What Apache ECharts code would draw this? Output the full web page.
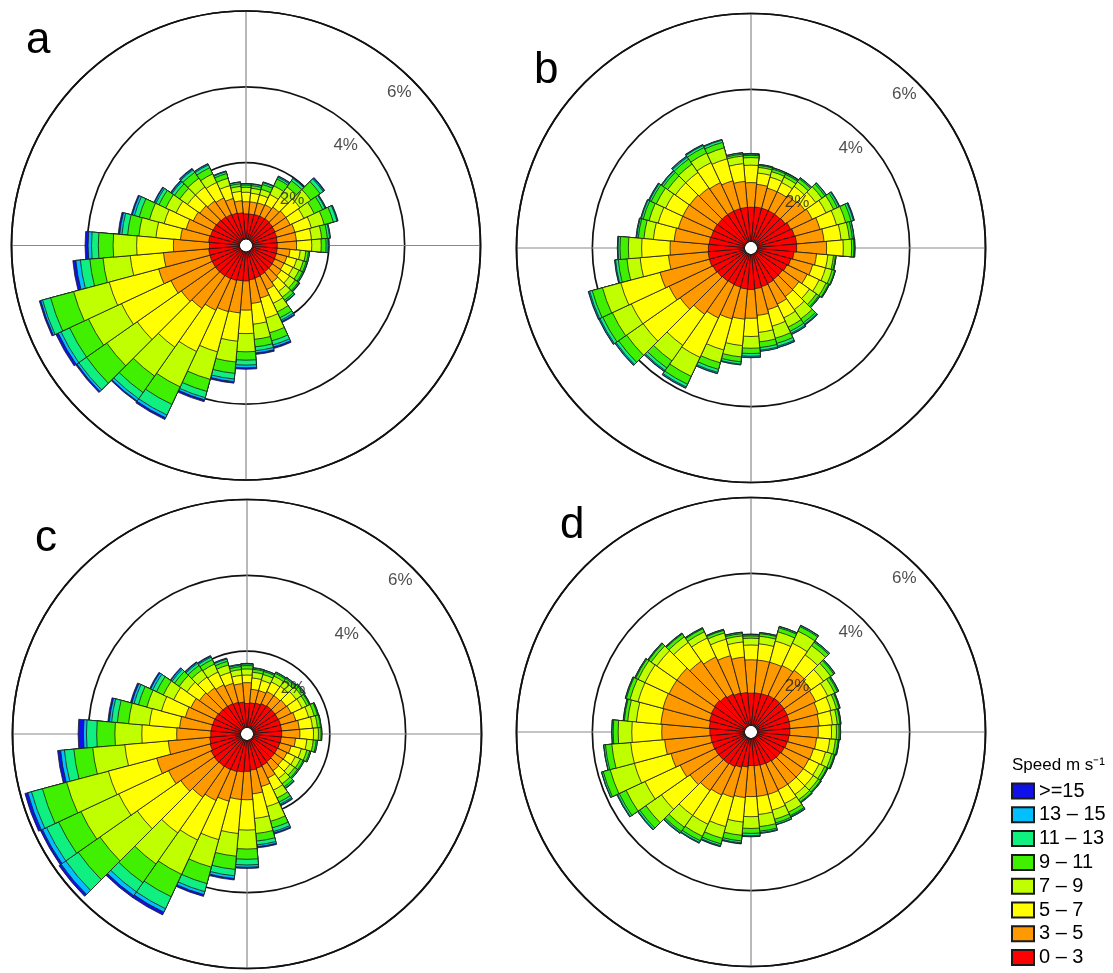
<!DOCTYPE html>
<html><head><meta charset="utf-8">
<script src="https://cdn.jsdelivr.net/npm/echarts@6/dist/echarts.min.js"></script>
<style>html,body{margin:0;padding:0;background:#fff}#chart{width:1113px;height:973px}</style>
</head><body><div id="chart"></div>
<script>
// Direction bins (degrees clockwise from north)
const directions = ['0','10','20','30','40','50','60','70','80','90','100','110','120','130','140','150','160','170','180','190','200','210','220','230','240','250','260','270','280','290','300','310','320','330','340','350'];
// Speed classes (inner to outer)
const speedClasses = ['0 – 3','3 – 5','5 – 7','7 – 9','9 – 11','11 – 13','13 – 15','>=15'];
const classColors = ['#ff0000','#ff9900','#ffff00','#c0ff00','#40f000','#10f080','#00c0ff','#1010e8'];
const ringValues = [2, 4, 6];
const ringLabels = ['2%', '4%', '6%'];
const panelLetters = ['a', 'b', 'c', 'd'];
const legendTitle = 'Speed m s⁻¹';

// Cumulative frequency (%) up to each speed class, per direction bin
// Panel a
const aUpTo3  = [0.65,0.65,0.66,0.67,0.68,0.67,0.66,0.65,0.64,0.64,0.64,0.64,0.65,0.66,0.66,0.68,0.7,0.72,0.75,0.75,0.77,0.78,0.79,0.8,0.8,0.8,0.8,0.78,0.8,0.78,0.77,0.76,0.74,0.72,0.7,0.68];
const aUpTo5  = [0.97,0.97,0.98,1.0,1.05,1.1,1.1,1.15,1.15,1.15,0.98,0.93,0.92,0.95,1.0,1.1,1.25,1.35,1.52,1.6,1.62,1.7,1.84,1.9,2.0,2.2,2.0,1.73,1.55,1.45,1.35,1.3,1.25,1.2,1.1,1.0];
const aUpTo7  = [1.22,1.2,1.2,1.3,1.4,1.55,1.5,1.6,1.55,1.55,1.25,1.2,1.18,1.22,1.3,1.5,1.8,1.9,2.14,2.35,2.72,2.9,3.09,3.32,3.44,3.55,2.88,2.7,2.2,2.05,1.85,1.7,1.7,1.65,1.45,1.25];
const aUpTo9  = [1.35,1.33,1.35,1.55,1.7,1.9,1.8,1.95,1.82,1.8,1.4,1.38,1.36,1.4,1.48,1.75,2.2,2.3,2.62,2.9,3.47,3.93,4.02,4.3,4.4,4.52,3.6,3.32,2.65,2.45,2.15,1.95,1.98,1.9,1.65,1.38];
const aUpTo11 = [1.41,1.4,1.48,1.75,1.9,2.2,2.05,2.2,1.97,1.93,1.47,1.46,1.46,1.5,1.58,1.92,2.42,2.5,2.84,3.2,3.8,4.44,4.55,4.95,4.95,5.15,3.95,3.71,2.95,2.73,2.35,2.12,2.17,2.08,1.78,1.45];
const aUpTo13 = [1.44,1.44,1.53,1.8,1.97,2.3,2.12,2.3,2.03,1.98,1.5,1.49,1.49,1.53,1.62,1.99,2.53,2.6,2.97,3.35,3.97,4.75,4.75,5.2,5.2,5.37,4.2,3.89,3.1,2.86,2.44,2.2,2.25,2.16,1.83,1.49];
const aUpTo15 = [1.45,1.45,1.55,1.83,1.99,2.33,2.14,2.32,2.05,2.0,1.5,1.5,1.5,1.54,1.63,2.03,2.59,2.66,3.04,3.42,4.03,4.83,4.82,5.26,5.28,5.42,4.32,3.98,3.16,2.92,2.48,2.23,2.28,2.19,1.85,1.5];
const aTotal  = [1.45,1.45,1.55,1.84,2.0,2.35,2.15,2.33,2.05,2.0,1.5,1.5,1.5,1.55,1.64,2.06,2.63,2.7,3.08,3.46,4.08,4.88,4.85,5.3,5.35,5.46,4.4,4.06,3.2,2.95,2.5,2.25,2.3,2.2,1.85,1.5];
// Panel b
const bUpTo3  = [0.89,0.9,0.9,0.9,0.9,0.92,0.97,1.0,1.02,1.02,0.95,0.9,0.86,0.83,0.83,0.85,0.87,0.89,0.91,0.9,0.88,0.87,0.88,0.9,0.92,0.95,0.95,0.94,0.92,0.9,0.9,0.89,0.89,0.89,0.89,0.89];
const bUpTo5  = [1.54,1.5,1.45,1.45,1.5,1.55,1.6,1.7,1.75,1.81,1.55,1.5,1.45,1.36,1.38,1.45,1.5,1.6,1.67,1.7,1.75,1.85,1.95,2.1,2.2,2.3,2.0,1.95,1.85,1.8,1.8,1.79,1.75,1.72,1.65,1.58];
const bUpTo7  = [2.0,1.8,1.75,1.72,1.8,1.9,2.0,2.15,2.2,2.25,1.85,1.85,1.8,1.7,1.8,1.85,1.95,2.05,2.15,2.4,2.6,3.0,2.95,3.29,3.3,3.37,2.75,2.7,2.4,2.35,2.3,2.25,2.25,2.3,2.25,2.05];
const bUpTo9  = [2.2,1.95,1.9,1.88,1.95,2.1,2.22,2.4,2.42,2.47,2.0,2.03,2.0,1.92,2.1,2.12,2.28,2.3,2.46,2.7,2.95,3.55,3.45,3.82,3.85,3.87,3.1,3.05,2.65,2.6,2.57,2.5,2.52,2.58,2.55,2.25];
const bUpTo11 = [2.26,2.0,1.97,1.96,2.04,2.2,2.33,2.55,2.5,2.53,2.05,2.1,2.07,2.0,2.22,2.24,2.42,2.45,2.6,2.83,3.13,3.78,3.68,4.08,4.13,4.15,3.33,3.27,2.8,2.76,2.72,2.64,2.68,2.74,2.7,2.3];
const bUpTo13 = [2.29,2.02,2.0,1.99,2.07,2.24,2.38,2.61,2.54,2.55,2.07,2.12,2.09,2.03,2.27,2.3,2.5,2.52,2.67,2.89,3.21,3.86,3.76,4.16,4.21,4.22,3.4,3.32,2.84,2.81,2.77,2.69,2.74,2.8,2.76,2.33];
const bUpTo15 = [2.3,2.03,2.0,2.0,2.08,2.25,2.4,2.63,2.55,2.56,2.07,2.12,2.1,2.04,2.29,2.33,2.53,2.55,2.7,2.91,3.24,3.89,3.79,4.19,4.24,4.25,3.42,3.34,2.86,2.83,2.79,2.71,2.77,2.82,2.78,2.34];
const bTotal  = [2.31,2.03,2.0,2.0,2.08,2.25,2.4,2.64,2.55,2.56,2.07,2.12,2.1,2.04,2.3,2.34,2.54,2.55,2.71,2.91,3.25,3.9,3.8,4.2,4.25,4.26,3.43,3.34,2.86,2.83,2.8,2.71,2.78,2.83,2.78,2.34];
// Panel c
const cUpTo3  = [0.62,0.64,0.66,0.7,0.72,0.72,0.72,0.73,0.73,0.73,0.72,0.71,0.7,0.7,0.71,0.73,0.75,0.77,0.8,0.82,0.84,0.85,0.86,0.87,0.86,0.82,0.8,0.77,0.76,0.75,0.74,0.72,0.71,0.7,0.68,0.66];
const cUpTo5  = [1.17,1.0,1.0,1.05,1.05,1.08,1.1,1.15,1.2,1.21,1.1,1.02,0.98,0.97,1.0,1.1,1.25,1.4,1.55,1.55,1.65,1.75,1.85,1.95,2.1,2.28,1.9,1.67,1.6,1.5,1.45,1.35,1.3,1.25,1.2,1.15];
const cUpTo7  = [1.37,1.3,1.28,1.33,1.35,1.4,1.42,1.5,1.55,1.57,1.4,1.3,1.22,1.2,1.25,1.45,1.8,2.05,2.35,2.45,2.7,2.9,3.0,3.35,3.55,3.6,3.05,2.59,2.4,2.15,1.95,1.75,1.65,1.62,1.5,1.37];
const cUpTo9  = [1.53,1.45,1.44,1.5,1.52,1.57,1.56,1.65,1.68,1.7,1.57,1.45,1.37,1.35,1.42,1.68,2.2,2.45,2.85,3.05,3.45,3.9,4.0,4.55,4.65,4.74,3.9,3.3,2.95,2.55,2.25,2.0,1.88,1.85,1.7,1.52];
const cUpTo11 = [1.62,1.53,1.52,1.58,1.6,1.65,1.63,1.74,1.76,1.77,1.65,1.53,1.45,1.44,1.52,1.8,2.38,2.65,3.12,3.4,3.9,4.55,4.6,5.25,5.3,5.4,4.4,3.78,3.25,2.78,2.45,2.15,2.02,1.98,1.8,1.6];
const cUpTo13 = [1.66,1.56,1.55,1.61,1.63,1.68,1.65,1.76,1.78,1.79,1.68,1.56,1.48,1.47,1.56,1.86,2.48,2.75,3.27,3.57,4.12,4.9,4.9,5.65,5.65,5.7,4.65,4.05,3.4,2.9,2.56,2.23,2.09,2.05,1.86,1.64];
const cUpTo15 = [1.67,1.57,1.56,1.62,1.64,1.69,1.66,1.77,1.78,1.79,1.68,1.56,1.48,1.48,1.57,1.89,2.52,2.8,3.33,3.64,4.2,5.0,5.02,5.8,5.77,5.8,4.75,4.13,3.46,2.96,2.62,2.27,2.12,2.08,1.88,1.66];
const cTotal  = [1.68,1.57,1.56,1.62,1.64,1.69,1.66,1.77,1.78,1.79,1.68,1.56,1.48,1.48,1.58,1.91,2.55,2.83,3.36,3.68,4.25,5.08,5.08,5.87,5.83,5.88,4.83,4.27,3.5,3.0,2.65,2.29,2.14,2.1,1.89,1.66];
// Panel d
const dUpTo3  = [0.84,0.85,0.86,0.88,0.89,0.88,0.87,0.86,0.85,0.84,0.82,0.8,0.78,0.76,0.75,0.73,0.72,0.71,0.7,0.74,0.78,0.82,0.84,0.85,0.86,0.87,0.88,0.9,0.92,0.95,0.97,0.99,0.96,0.92,0.88,0.86];
const dUpTo5  = [1.72,1.72,1.72,1.75,1.8,1.75,1.7,1.65,1.62,1.59,1.55,1.52,1.5,1.5,1.5,1.5,1.52,1.52,1.52,1.55,1.6,1.65,1.7,1.78,1.88,2.0,2.1,2.17,2.2,2.22,2.2,2.2,2.1,2.0,1.9,1.8];
const dUpTo7  = [2.11,2.15,2.3,2.4,2.3,2.15,2.05,2.0,1.97,1.94,1.9,1.85,1.8,1.82,1.83,1.9,1.95,2.0,2.05,2.2,2.4,2.5,2.5,2.7,2.9,3.0,3.0,2.96,2.85,2.9,2.9,2.85,2.7,2.55,2.35,2.2];
const dUpTo9  = [2.29,2.35,2.55,2.75,2.6,2.38,2.25,2.15,2.1,2.07,2.05,2.02,1.96,1.98,2.0,2.15,2.2,2.32,2.36,2.55,2.72,2.85,2.88,3.2,3.45,3.66,3.5,3.32,3.08,3.12,3.1,3.03,2.88,2.73,2.52,2.36];
const dUpTo11 = [2.35,2.42,2.66,2.88,2.71,2.48,2.33,2.22,2.17,2.14,2.12,2.09,2.03,2.05,2.07,2.25,2.3,2.44,2.49,2.7,2.87,2.98,3.02,3.4,3.65,3.85,3.67,3.45,3.17,3.22,3.17,3.11,2.97,2.82,2.59,2.42];
const dUpTo13 = [2.38,2.44,2.69,2.91,2.74,2.51,2.36,2.24,2.19,2.17,2.14,2.11,2.05,2.07,2.09,2.28,2.34,2.48,2.55,2.75,2.92,3.03,3.06,3.45,3.7,3.89,3.71,3.48,3.19,3.24,3.19,3.13,2.99,2.84,2.61,2.45];
const dUpTo15 = [2.39,2.45,2.7,2.92,2.75,2.52,2.37,2.25,2.2,2.18,2.15,2.12,2.06,2.08,2.1,2.3,2.35,2.5,2.57,2.77,2.94,3.05,3.08,3.47,3.72,3.9,3.72,3.49,3.2,3.25,3.2,3.14,3.0,2.85,2.62,2.46];
const dTotal  = [2.4,2.45,2.7,2.92,2.75,2.52,2.37,2.25,2.2,2.18,2.15,2.12,2.06,2.08,2.1,2.3,2.35,2.5,2.58,2.78,2.95,3.05,3.08,3.47,3.72,3.9,3.72,3.49,3.2,3.25,3.2,3.14,3.0,2.85,2.62,2.46];

const panelData = [
  [aUpTo3,aUpTo5,aUpTo7,aUpTo9,aUpTo11,aUpTo13,aUpTo15,aTotal],
  [bUpTo3,bUpTo5,bUpTo7,bUpTo9,bUpTo11,bUpTo13,bUpTo15,bTotal],
  [cUpTo3,cUpTo5,cUpTo7,cUpTo9,cUpTo11,cUpTo13,cUpTo15,cTotal],
  [dUpTo3,dUpTo5,dUpTo7,dUpTo9,dUpTo11,dUpTo13,dUpTo15,dTotal]
];

// Layout
const FONT = 'Liberation Sans, Arial, Helvetica, sans-serif';
const centers = [[246, 245.5], [751, 248], [247, 734], [751, 732]];
const letterPos = [[21, 14], [529, 44], [30, 512], [555, 499]];
const R = [7, 234.5];

const polar = [], angleAxis = [], radiusAxis = [], series = [], title = [];

centers.forEach((c, i) => {
  const pBar = 2 * i, pGrid = 2 * i + 1;
  polar.push({ center: c, radius: R });
  polar.push({ center: c, radius: R });
  angleAxis.push({
    polarIndex: pBar, type: 'category', data: directions, startAngle: 95, clockwise: true,
    boundaryGap: true, axisLine: { show: false }, axisTick: { show: false },
    axisLabel: { show: false }, splitLine: { show: false }
  });
  angleAxis.push({
    polarIndex: pGrid, type: 'value', min: 0, max: 360, interval: 90, startAngle: 90, clockwise: true,
    axisLine: { show: true, lineStyle: { color: '#111', width: 1.7 } },
    axisTick: { show: false }, axisLabel: { show: false },
    splitLine: { show: true, lineStyle: { color: '#8a8a8a', width: 1.2 } }
  });
  radiusAxis.push({ polarIndex: pBar, type: 'value', min: 0, max: 6, show: false });
  radiusAxis.push({
    polarIndex: pGrid, type: 'value', min: 0, max: 6, interval: 2,
    axisLine: { show: false }, axisTick: { show: false }, axisLabel: { show: false },
    splitLine: { show: true, lineStyle: { color: '#111', width: 1.7 } }
  });
  for (let k = speedClasses.length - 1; k >= 0; k--) {
    series.push({
      type: 'bar', coordinateSystem: 'polar', polarIndex: pBar,
      name: speedClasses[k], data: panelData[i][k],
      barGap: '-100%', barCategoryGap: '0%',
      itemStyle: { color: classColors[k], borderColor: '#1a1a1a', borderWidth: 0.8 },
      emphasis: { disabled: true }
    });
  }
  series.push({
    type: 'scatter', coordinateSystem: 'polar', polarIndex: pGrid, z: 20,
    symbolSize: 0, silent: true,
    data: ringValues.map((v, j) => ({ value: [v, 45], name: ringLabels[j] })),
    label: {
      show: true, position: 'inside', offset: [-12.5, 12.5], formatter: '{b}',
      fontSize: 17, color: '#222', fontFamily: FONT
    }
  });
  title.push({
    text: panelLetters[i], left: letterPos[i][0], top: letterPos[i][1],
    textStyle: { fontSize: 44, fontWeight: 'normal', color: '#000', fontFamily: FONT }
  });
});

title.push({
  text: legendTitle, left: 1007, top: 752,
  textStyle: { fontSize: 17, fontWeight: 'normal', color: '#000', fontFamily: FONT }
});

const option = {
  animation: false,
  backgroundColor: '#fff',
  title: title,
  polar: polar,
  angleAxis: angleAxis,
  radiusAxis: radiusAxis,
  legend: {
    orient: 'vertical', left: 1006, top: 776,
    data: speedClasses.slice().reverse(),
    itemWidth: 22, itemHeight: 15, itemGap: 3.8,
    icon: 'rect', selectedMode: false,
    textStyle: { fontSize: 20, color: '#000', fontFamily: FONT }
  },
  series: series
};

const chart = echarts.init(document.getElementById('chart'), null, { renderer: 'canvas' });
chart.setOption(option);
</script>
</body></html>
